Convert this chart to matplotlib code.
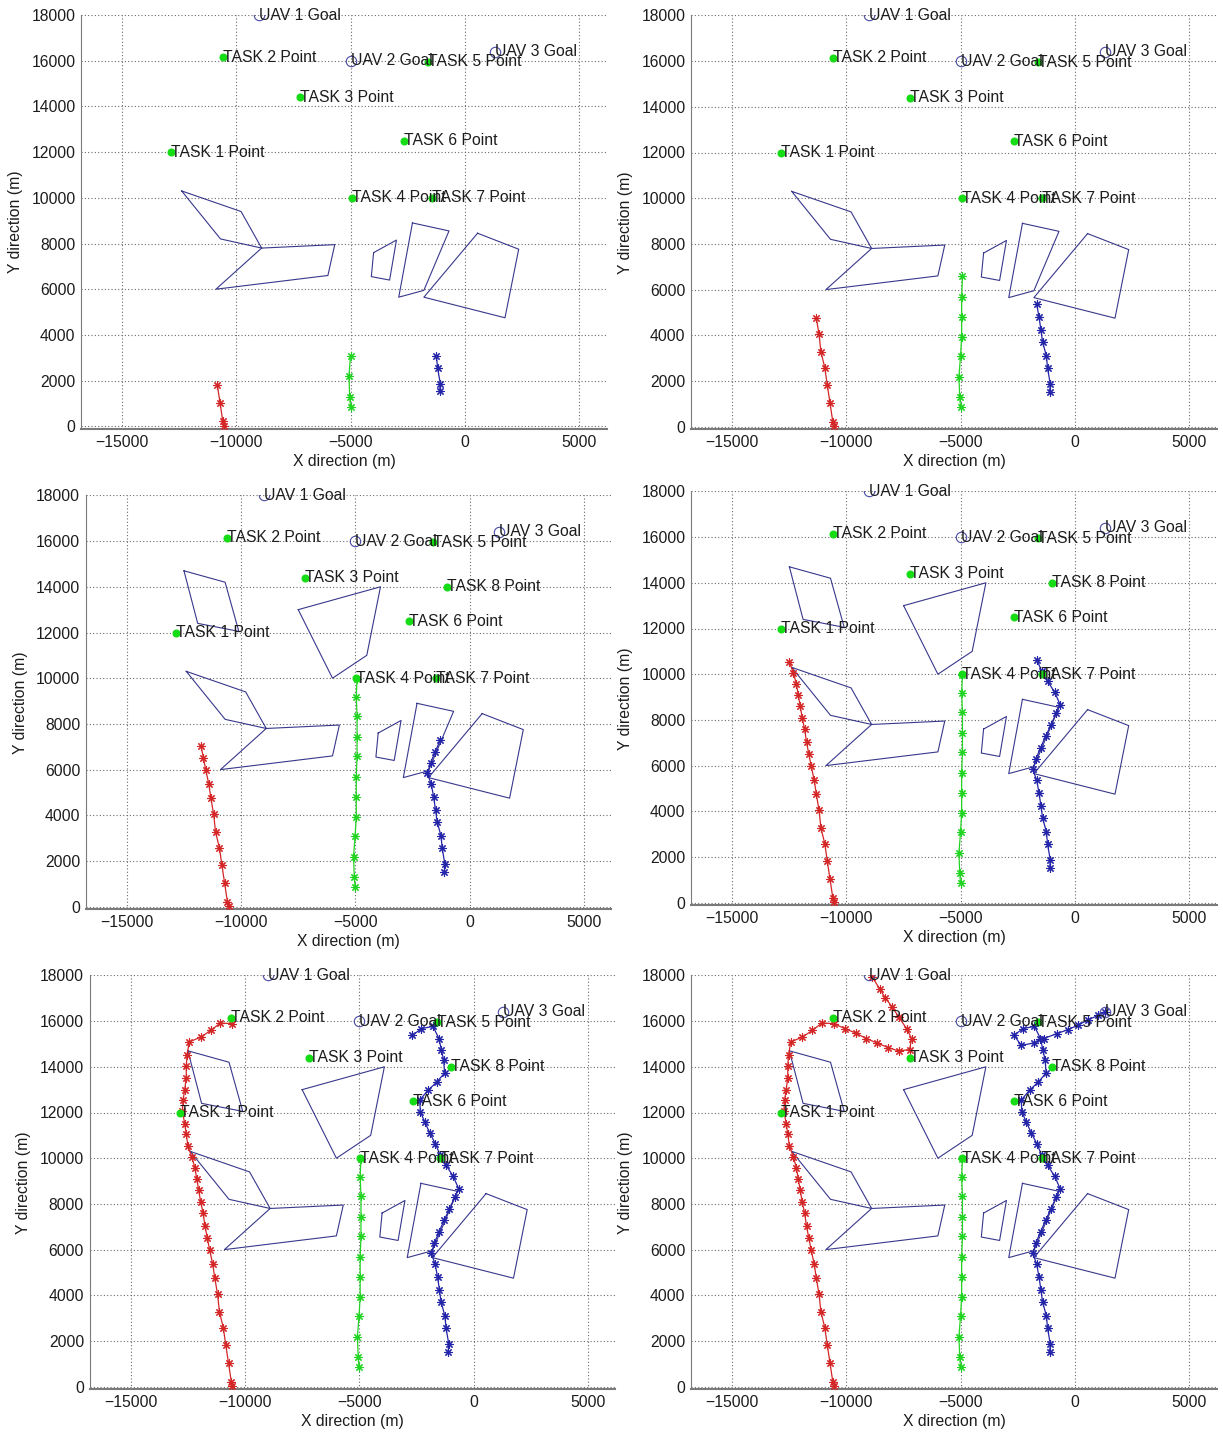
import matplotlib
matplotlib.use('Agg')
import matplotlib.pyplot as plt

plt.rcParams['font.family'] = ['Liberation Sans', 'DejaVu Sans']

# ---------------- data (m) ----------------
goal_x = [-9000, -5000, 1300]
goal_y = [18000, 16000, 16400]
goal_labels = ['UAV 1 Goal', 'UAV 2 Goal', 'UAV 3 Goal']

task_x = [-12850, -10600, -7200, -4950, -1600, -2650, -1450, -1000]
task_y = [12000, 16150, 14400, 10000, 15950, 12500, 10000, 14000]
task_labels = ['TASK 1 Point', 'TASK 2 Point', 'TASK 3 Point', 'TASK 4 Point',
               'TASK 5 Point', 'TASK 6 Point', 'TASK 7 Point', 'TASK 8 Point']

# obstacle polygons (vertices, closed when drawn)
obstacle_x = [[-12400, -9800, -8900, -10700],
              [-8900, -5700, -6000, -10900],
              [-4000, -3000, -3300, -4100],
              [-2300, -700, -1800, -2900],
              [550, 2350, 1750, -1800],
              [-12500, -10700, -10100, -11900],
              [-7500, -3900, -4500, -6000]]
obstacle_y = [[10300, 9400, 7800, 8200],
              [7800, 7950, 6600, 6000],
              [7600, 8150, 6400, 6550],
              [8900, 8550, 5950, 5650],
              [8450, 7750, 4750, 5650],
              [14700, 14200, 12050, 12400],
              [13000, 14000, 11000, 10000]]

# UAV 1 (red) trajectory
red_x = [-10550, -10600, -10720, -10840, -10950, -11120, -11200, -11320, -11410,
         -11545, -11650, -11750, -11835, -11940, -12025, -12110, -12195, -12330,
         -12500, -12570, -12640, -12740, -12710, -12640, -12570, -12570, -12535,
         -12440, -11930, -11490, -11080, -10550, -10070, -9600, -9135, -8655,
         -8175, -7710, -7240, -7150, -7370, -7710, -8000, -8310, -8550, -8875]
red_y = [30, 220, 1020, 1820, 2580, 3280, 4040, 4740, 5350,
         5975, 6515, 7025, 7610, 8090, 8600, 9080, 9590, 10060,
         10540, 11050, 11515, 12070, 12535, 13000, 13525, 14020, 14530,
         15085, 15305, 15595, 15915, 15890, 15670, 15480, 15235, 15040,
         14840, 14690, 14755, 15235, 15670, 16175, 16615, 17025, 17420, 17925]

# UAV 2 (green) trajectory
green_x = [-5010, -5045, -5080, -5010, -4960, -4960, -4960, -4925, -4925, -4925, -4960, -4925]
green_y = [845, 1285, 2185, 3090, 3935, 4810, 5685, 6590, 7435, 8335, 9180, 9985]

# UAV 3 (blue) trajectory
blue_x = [-1110, -1080, -1200, -1250, -1420, -1490, -1575, -1675, -1845, -1710,
          -1505, -1285, -1060, -820, -650, -890, -1200, -1455, -1675, -1915,
          -2135, -2325, -2355, -1990, -1600, -1265, -1305, -1410, -1510, -1775,
          -2280, -2670, -2350, -1810, -1375, -795, -315, 120, 590, 1025, 1300]
blue_y = [1530, 1865, 2550, 3090, 3715, 4225, 4810, 5350, 5830, 6295,
          6780, 7290, 7755, 8310, 8670, 9210, 9690, 10130, 10640, 11110,
          11590, 12025, 12540, 12975, 13340, 13730, 14285, 14755, 15235, 15770,
          15670, 15380, 14940, 15040, 15235, 15450, 15625, 15815, 16065, 16250, 16395]

# what each snapshot shows
red_n = [4, 8, 12, 19, 32, 46]
green_n = [4, 8, 12, 12, 12, 12]
blue_n = [4, 8, 12, 19, 32, 41]
tasks_shown = [7, 7, 8, 8, 8, 8]
obstacles_shown = [5, 5, 7, 7, 7, 7]

# ---------------- layout (pixels of the 1223x1432 sheet) ----------------
W, H = 1223, 1432
PX = 22.85                      # pixels per 1000 m
XMIN, XMAX = -16800, 6200
YMIN, YMAX = -120, 18000
panel_x0 = [465.0, 1075.0, 469.6, 1075.0, 473.5, 1075.0]   # pixel of x = 0
panel_y0 = [426.3, 426.7, 906.7, 902.7, 1386.7, 1386.7]    # pixel of y = 0

RED, GREEN, BLUE = '#d42626', '#22d422', '#2424a8'
OBST = '#38388c'
TXT = '#1c1c1c'
FS = 11.3

fig = plt.figure(figsize=(W / 100, H / 100), dpi=100)

for i in range(6):
    left = (panel_x0[i] + XMIN / 1000 * PX) / W
    bottom = 1 - (panel_y0[i] - YMIN / 1000 * PX) / H
    width = (XMAX - XMIN) / 1000 * PX / W
    height = (YMAX - YMIN) / 1000 * PX / H
    ax = fig.add_axes([left, bottom, width, height])

    for ox, oy in zip(obstacle_x[:obstacles_shown[i]], obstacle_y[:obstacles_shown[i]]):
        ax.plot(ox + ox[:1], oy + oy[:1], color=OBST, lw=0.8, zorder=2)

    for px_, py_, n, col in [(red_x, red_y, red_n[i], RED),
                             (green_x, green_y, green_n[i], GREEN),
                             (blue_x, blue_y, blue_n[i], BLUE)]:
        ax.plot(px_[:n], py_[:n], color=col, lw=0.9, marker=(8, 2, 0),
                markersize=6, markeredgewidth=0.8, zorder=3)

    ax.plot(goal_x, goal_y, linestyle='none', marker='o', markersize=7.5,
            markerfacecolor='none', markeredgecolor='#4a4aa6', markeredgewidth=0.8, zorder=4)
    for gx, gy, gl in zip(goal_x, goal_y, goal_labels):
        ax.text(gx, gy, gl, ha='left', va='center', fontsize=FS, color=TXT,
                clip_on=False, zorder=6)

    nt = tasks_shown[i]
    ax.plot(task_x[:nt], task_y[:nt], linestyle='none', marker='o', markersize=4.8,
            color='#16dc16', zorder=5)
    for tx, ty, tl in zip(task_x[:nt], task_y[:nt], task_labels[:nt]):
        ax.text(tx, ty, tl, ha='left', va='center', fontsize=FS, color=TXT,
                clip_on=False, zorder=6)

    ax.set_xlim(XMIN, XMAX)
    ax.set_ylim(YMIN, YMAX)
    ax.set_xticks([-15000, -10000, -5000, 0, 5000])
    ax.set_yticks(range(0, 18001, 2000))
    ax.grid(True, linestyle=(0, (1, 2)), color='#6a6a6a', linewidth=0.8)
    ax.set_axisbelow(True)
    ax.tick_params(length=0, labelsize=FS, pad=4, colors=TXT)
    for s in ['top', 'right']:
        ax.spines[s].set_visible(False)
    ax.spines['left'].set_color('#7a7a7a')
    ax.spines['bottom'].set_color('#7a7a7a')
    ax.spines['bottom'].set_linewidth(1.5)
    ax.set_xlabel('X direction (m)', fontsize=FS, color=TXT, labelpad=3)
    ax.set_ylabel('Y direction (m)', fontsize=FS, color=TXT, labelpad=6)

fig.savefig('out.png', dpi=100, facecolor='white')
